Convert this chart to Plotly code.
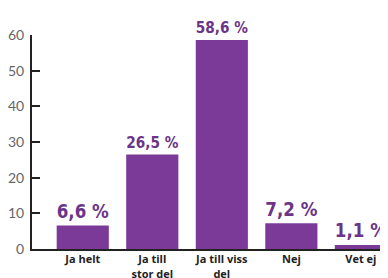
import plotly.graph_objects as go

categories = ["Ja helt", "Ja till<br>stor del", "Ja till viss<br>del", "Nej", "Vet ej"]
values = [6.6, 26.5, 58.6, 7.2, 1.1]
y_ticks = [0, 10, 20, 30, 40, 50, 60]

bar_color = "#7b3a97"
label_color = "#6a3489"

# page body has an 8px margin, so the figure is 8px smaller and margins compensated
fig = go.Figure(go.Bar(
    x=categories,
    y=values,
    marker=dict(color=bar_color, line=dict(width=0)),
    texttemplate="%{y:.1f} %",
    textposition="outside",
    cliponaxis=False,
    textfont=dict(family="DejaVu Sans Condensed, DejaVu Sans, sans-serif",
                  size=24, color=label_color, weight="bold"),
    width=0.75,
))

fig.update_layout(
    width=380, height=270,
    margin=dict(l=24, r=0, t=27, b=29, autoexpand=False),
    paper_bgcolor="white", plot_bgcolor="white",
    separators=", ",
    showlegend=False,
    xaxis=dict(
        range=[-0.73, 4.39],
        automargin=False,
        showline=True, linecolor="#222", linewidth=2,
        ticks="", showgrid=False, zeroline=False,
        tickfont=dict(family="Open Sans, sans-serif", size=11, color="#222", weight="bold"),
        ticklabelstandoff=-1,
    ),
    yaxis=dict(
        range=[0, 60],
        automargin=False,
        tickvals=y_ticks,
        showline=True, linecolor="#222", linewidth=2,
        ticks="inside", ticklen=8, tickwidth=2, tickcolor="#222",
        showgrid=False, zeroline=False,
        tickfont=dict(family="Lato, sans-serif", size=14, color="#666"),
        ticklabelstandoff=3,
    ),
    bargap=0.25,
)

fig.write_html("out.html")
